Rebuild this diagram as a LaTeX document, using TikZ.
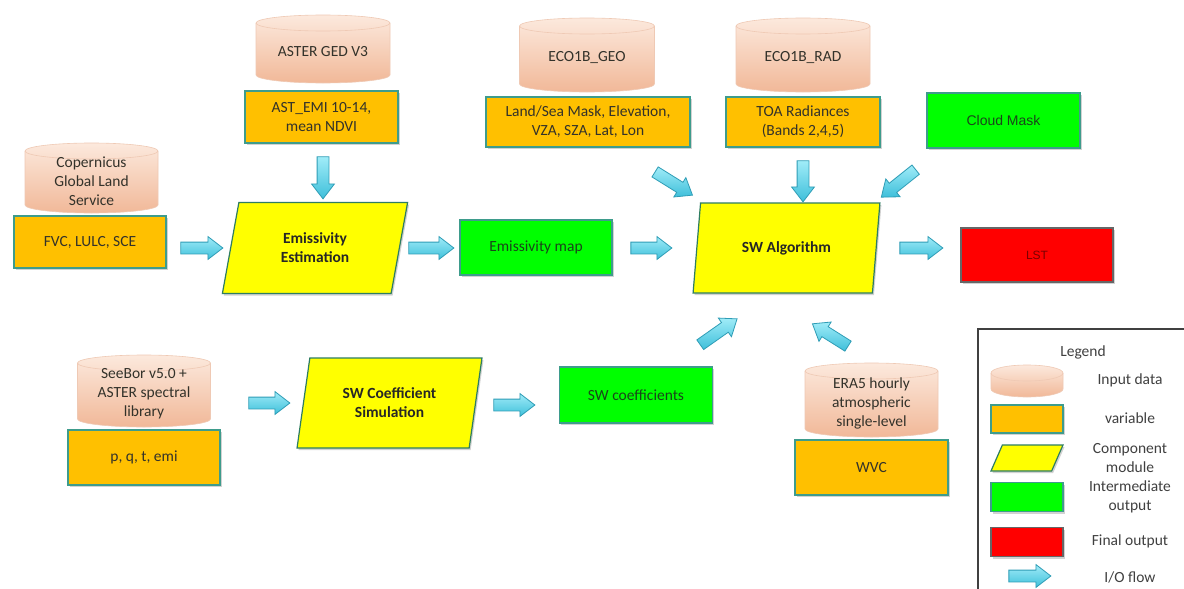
\documentclass[tikz,border=0pt]{standalone}
\usepackage{fontspec}
\setmainfont{Carlito}
\newfontfamily\arialfont{Liberation Sans}
\usetikzlibrary{shapes.geometric,shapes.arrows,shadows}

\definecolor{txt}{HTML}{33322A}
\definecolor{cylA}{HTML}{FCE9DD}
\definecolor{cylB}{HTML}{F1B898}
\definecolor{cylE}{HTML}{EFC9B4}
\definecolor{orangeF}{HTML}{FFC000}
\definecolor{tealB}{HTML}{3E9C8C}
\definecolor{yelF}{HTML}{FFFF00}
\definecolor{yelB}{HTML}{2E7D62}
\definecolor{grnF}{HTML}{00FF00}
\definecolor{grnT}{HTML}{1A451A}
\definecolor{redF}{HTML}{FF0000}
\definecolor{redT}{HTML}{7A0000}
\definecolor{arrA}{HTML}{A0ECF8}
\definecolor{arrB}{HTML}{3EBFDA}
\definecolor{arrD}{HTML}{2F9DB6}
\definecolor{legB}{HTML}{404040}

\tikzset{
  base/.style={font=\fontsize{15.5}{19}\selectfont, text=txt, align=center, inner sep=2pt},
  shad/.style={drop shadow={shadow xshift=1.5pt, shadow yshift=-2pt, opacity=0.25, fill=black!70}},
  cyltext/.style={base, text=txt},
  varbox/.style={base, rectangle, fill=orangeF, draw=tealB, line width=1.2pt, shad},
  modbox/.style={base, font=\fontsize{15.5}{19}\selectfont\bfseries, text=black!85, trapezium,
     trapezium left angle=77, trapezium right angle=103, trapezium stretches=true,
     fill=yelF, draw=yelB, line width=1.2pt, shad},
  midbox/.style={base, text=grnT, rectangle, fill=grnF, draw=tealB, line width=1.2pt, shad},
  finbox/.style={base, rectangle, fill=redF, draw=black!60, line width=1.2pt, shad},
  blk/.style={single arrow, draw=arrD, line width=0.8pt, top color=arrA, bottom color=arrB,
     minimum height=#1, inner xsep=0pt, inner ysep=5.5pt, text height=0pt, text depth=0pt,
     single arrow head extend=5.5pt, single arrow tip angle=75,
     sloped, allow upside down, anchor=center},
  legtext/.style={base, text=legB},
}

% cylinder: name, cx, cy, w, h, text
\newcommand\dbcyl[6]{%
  \path[top color=cylA, bottom color=cylB, draw=cylE, line width=0.6pt]
    (#2-#4/2, #3-#5/2+8) -- (#2-#4/2, #3+#5/2-8)
    arc[start angle=180, end angle=0, x radius=#4/2, y radius=8]
    -- (#2+#4/2, #3-#5/2+8)
    arc[start angle=0, end angle=-180, x radius=#4/2, y radius=8] -- cycle;
  \path[draw=cylE, line width=0.6pt] (#2+#4/2, #3-#5/2+8)
    arc[start angle=0, end angle=180, x radius=#4/2, y radius=8];
  \node[cyltext, minimum width=#4, minimum height=#5] (#1) at (#2,#3+3) {#6};
}

\begin{document}
\begin{tikzpicture}[x=1pt, y=-1pt]
\path[fill=white] (0,0) rectangle (1184,589);
\useasboundingbox (0,0) rectangle (1184,589);
\clip (0,0) rectangle (1184,589);

% ---- top-left group
\dbcyl{cop}{91.5}{178}{133}{70}{Copernicus\\Global Land\\Service}
\node[varbox, minimum width=152, minimum height=52] (fvc) at (90,242) {FVC, LULC, SCE};

\dbcyl{ged}{323}{49}{134}{68}{ASTER GED V3}
\node[varbox, minimum width=153, minimum height=52] (astemi) at (321.5,117) {AST\_EMI 10-14,\\mean NDVI};

\node[modbox, minimum width=186, minimum height=91] (emis) at (315,248) {Emissivity\\Estimation};
\node[midbox, minimum width=152, minimum height=55] (emap) at (536,247.5) {Emissivity map};

\dbcyl{geo}{587}{55}{135}{74}{ECO1B\_GEO}
\node[varbox, minimum width=204, minimum height=50] (geobox) at (588,122) {Land/Sea Mask, Elevation,\\VZA, SZA, Lat, Lon};

\dbcyl{rad}{803}{55}{134}{74}{ECO1B\_RAD}
\node[varbox, minimum width=154, minimum height=50] (radbox) at (803,122) {TOA Radiances\\(Bands 2,4,5)};

\node[midbox, font=\fontsize{14}{17}\arialfont, minimum width=153, minimum height=55] (cloud) at (1003.5,120.5) {Cloud Mask};

\node[modbox, minimum width=187, minimum height=90] (sw) at (786.5,248) {SW Algorithm};
\node[finbox, text=redT, font=\fontsize{12}{14}\arialfont, minimum width=152, minimum height=54] (lst) at (1037,255) {LST};

% ---- bottom group
\dbcyl{seebor}{144}{391}{133}{72}{SeeBor v5.0 +\\ASTER spectral\\library}
\node[varbox, minimum width=152, minimum height=55] (pqt) at (144,457.5) {p, q, t, emi};

\node[modbox, minimum width=185, minimum height=90] (swsim) at (389.5,403) {SW Coefficient\\Simulation};
\node[midbox, minimum width=153, minimum height=56] (swc) at (636,395) {SW coefficients};

\dbcyl{era}{871.5}{400}{133}{74}{ERA5 hourly\\atmospheric\\single-level}
\node[varbox, minimum width=153, minimum height=55] (wvc) at (871.5,467.5) {WVC};

% ---- block arrows (connectors)
\coordinate (a1s) at (177,248);  \coordinate (a1e) at (219,248);
\coordinate (a2s) at (323,153);  \coordinate (a2e) at (323,195);
\coordinate (a3s) at (405,248);  \coordinate (a3e) at (450,248);
\coordinate (a4s) at (627,248);  \coordinate (a4e) at (668,248);
\coordinate (a5s) at (652,170);  \coordinate (a5e) at (689,193);
\coordinate (a6s) at (803,157);  \coordinate (a6e) at (803,198);
\coordinate (a7s) at (919,167);  \coordinate (a7e) at (884,195);
\coordinate (a8s) at (896,248);  \coordinate (a8e) at (939,248);
\coordinate (a9s) at (245,403);  \coordinate (a9e) at (286,403);
\coordinate (a10s) at (490,405); \coordinate (a10e) at (531,405);
\coordinate (a11s) at (697,347); \coordinate (a11e) at (734,321);
\coordinate (a12s) at (851,348); \coordinate (a12e) at (816,326);

\path (a1s) -- node[blk=42] {} (a1e);
\path (a2s) -- node[blk=42] {} (a2e);
\path (a3s) -- node[blk=45] {} (a3e);
\path (a4s) -- node[blk=41] {} (a4e);
\path (a5s) -- node[blk=44] {} (a5e);
\path (a6s) -- node[blk=41] {} (a6e);
\path (a7s) -- node[blk=44] {} (a7e);
\path (a8s) -- node[blk=43] {} (a8e);
\path (a9s) -- node[blk=41] {} (a9e);
\path (a10s) -- node[blk=41] {} (a10e);
\path (a11s) -- node[blk=45] {} (a11e);
\path (a12s) -- node[blk=42] {} (a12e);

% ---- legend
\node[draw=legB, line width=1.6pt, minimum width=230, minimum height=290, anchor=north west, inner sep=0pt] (legend) at (977,328) {};
\node[legtext] (legtitle) at (1083,352) {Legend};
\dbcyl{lcyl}{1027}{381}{72}{32}{}
\node[legtext] (lt1) at (1130,380) {Input data};
\node[varbox, minimum width=72, minimum height=28] (lvar) at (1027,419) {};
\node[legtext] (lt2) at (1130,418) {variable};
\node[modbox, minimum width=72, minimum height=26] (lmod) at (1027,458) {};
\node[legtext] (lt3) at (1130,458) {Component\\module};
\node[midbox, minimum width=72, minimum height=29] (lmid) at (1027,497) {};
\node[legtext] (lt4) at (1130,497) {Intermediate\\output};
\node[finbox, minimum width=72, minimum height=29] (lfin) at (1027,542) {};
\node[legtext] (lt5) at (1130,541) {Final output};
\coordinate (la1) at (1005,576); \coordinate (la2) at (1047,576);
\path (la1) -- node[blk=42] {} (la2);
\node[legtext] (lt6) at (1130,577) {I/O flow};
\end{tikzpicture}
\end{document}
